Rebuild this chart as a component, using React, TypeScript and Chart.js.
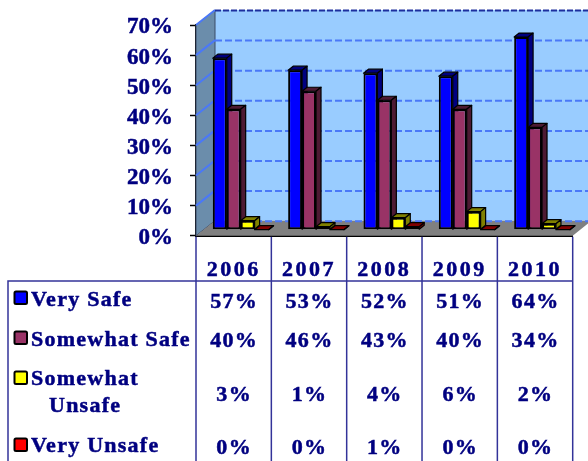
import React, { useEffect, useRef } from "react";
import { Chart, registerables } from "chart.js";

Chart.register(...registerables);

const years = ["2006", "2007", "2008", "2009", "2010"];
const verySafe = [57, 53, 52, 51, 64];
const somewhatSafe = [40, 46, 43, 40, 34];
const somewhatUnsafe = [3, 1, 4, 6, 2];
const veryUnsafe = [0, 0, 1, 0, 0];
const seriesNames = ["Very Safe", "Somewhat Safe", "Somewhat Unsafe", "Very Unsafe"];
const seriesValues = [verySafe, somewhatSafe, somewhatUnsafe, veryUnsafe];
const fronts = ["#0000FF", "#993366", "#FFFF00", "#FF0000"];
const sides = ["#000080", "#4D1A33", "#808000", "#800000"];

const NAVY = "#000080";
const LINE = "#333399";
const WALL_DX = 19;
const WALL_DY = 15;
const BAR_DX = 7;
const BAR_DY = -6;
const DEPTH_X = 5;
const DEPTH_Y = 4;

function poly(ctx: CanvasRenderingContext2D, pts: number[][], fill: string, stroke?: string, lw = 1) {
  ctx.beginPath();
  pts.forEach((p, i) => (i ? ctx.lineTo(p[0], p[1]) : ctx.moveTo(p[0], p[1])));
  ctx.closePath();
  ctx.fillStyle = fill;
  ctx.fill();
  if (stroke) {
    ctx.strokeStyle = stroke;
    ctx.lineWidth = lw;
    ctx.stroke();
  }
}

const scenePlugin = {
  id: "scene",
  afterLayout(chart: any) {
    const sx = chart.scales.x;
    const sy = chart.scales.y;
    if (!sx.__spaced) {
      const orig = sx.drawLabels;
      sx.drawLabels = function (area: any) {
        chart.ctx.letterSpacing = "2.5px";
        orig.call(this, area);
        chart.ctx.letterSpacing = "0px";
      };
      sx.__spaced = true;
      const origY = sy.drawLabels;
      sy.drawLabels = function (area: any) {
        chart.ctx.save();
        chart.ctx.translate(1, 2.5);
        origY.call(this, area);
        chart.ctx.restore();
      };
    }
  },
  beforeDatasetsDraw(chart: any) {
    const { ctx, chartArea: a, scales } = chart;
    const y = scales.y;
    const top = y.getPixelForValue(70);
    const bottom = y.getPixelForValue(0);
    const left = a.left;
    const right = a.right;
    ctx.save();
    poly(ctx, [[left + WALL_DX, top - WALL_DY], [588, top - WALL_DY], [588, bottom - WALL_DY], [left + WALL_DX, bottom - WALL_DY]], "#99CCFF");
    poly(ctx, [[left, top], [left + WALL_DX, top - WALL_DY], [left + WALL_DX, bottom - WALL_DY], [left, bottom]], "#6B8DAB", "#3A4A66");
    poly(ctx, [[left, bottom], [left + WALL_DX, bottom - WALL_DY], [right + WALL_DX, bottom - WALL_DY], [right, bottom]], "#808080");
    for (const t of y.ticks) {
      const py = y.getPixelForValue(t.value);
      ctx.lineWidth = 2;
      ctx.strokeStyle = "#4A78F8";
      if (t.value > 0) {
        ctx.beginPath();
        ctx.moveTo(left, py);
        ctx.lineTo(left + WALL_DX, py - WALL_DY);
        ctx.stroke();
      }
      ctx.setLineDash(t.value === 70 ? [6, 2] : [7, 3]);
      ctx.strokeStyle = t.value === 70 ? "#1C2F9E" : "#4A78F8";
      ctx.beginPath();
      ctx.moveTo(left + WALL_DX, py - WALL_DY + 0.5);
      ctx.lineTo(588, py - WALL_DY + 0.5);
      ctx.stroke();
      ctx.setLineDash([]);
    }
    ctx.lineJoin = "round";
    chart.data.datasets.forEach((_: any, d: number) => {
      chart.getDatasetMeta(d).data.forEach((b: any) => {
        const x0 = b.x - b.width / 2 + BAR_DX;
        const x1 = b.x + b.width / 2 + BAR_DX;
        const yt = b.y + BAR_DY;
        const yb = b.base + BAR_DY;
        poly(ctx, [[x0, yt], [x0 + DEPTH_X, yt - DEPTH_Y], [x1 + DEPTH_X, yt - DEPTH_Y], [x1, yt]], sides[d], "#000", 1.2);
        poly(ctx, [[x1, yt], [x1 + DEPTH_X, yt - DEPTH_Y], [x1 + DEPTH_X, yb - DEPTH_Y], [x1, yb]], sides[d], "#000", 1.2);
      });
    });
    ctx.restore();
    ctx.save();
    ctx.translate(BAR_DX, BAR_DY);
  },
  afterDatasetsDraw(chart: any) {
    chart.ctx.restore();
  },
  afterDraw(chart: any) {
    const { ctx, scales } = chart;
    const x = scales.x;
    const bottom = scales.y.getPixelForValue(0);
    const TABLE_TOP = 281;
    const BOT = 461;
    const half = (x.getPixelForValue(1) - x.getPixelForValue(0)) / 2;
    ctx.save();
    ctx.strokeStyle = LINE;
    ctx.lineWidth = 1.5;
    ctx.beginPath();
    ctx.moveTo(8, BOT);
    ctx.lineTo(8, TABLE_TOP);
    ctx.lineTo(x.getPixelForValue(4) + half, TABLE_TOP);
    for (let i = 0; i < years.length; i++) {
      const px = x.getPixelForValue(i) - half;
      ctx.moveTo(px, bottom + 1);
      ctx.lineTo(px, BOT);
    }
    const end = x.getPixelForValue(4) + half;
    ctx.moveTo(end, bottom + 1);
    ctx.lineTo(end, BOT);
    ctx.stroke();

    ctx.fillStyle = NAVY;
    ctx.strokeStyle = NAVY;
    ctx.lineWidth = 0.5;
    ctx.font = "bold 22px 'Liberation Serif'";
    ctx.textBaseline = "middle";
    const labelRows = [[300], [340], [379, 406], [446]];
    const valueRows = [302, 341, 395, 448];
    const keyTops = [291, 331, 371, 438];
    const keyX = 14;
    const put = (t: string, px: number, py: number) => {
      ctx.fillText(t, px, py);
      ctx.strokeText(t, px, py);
    };
    seriesNames.forEach((name, s) => {
      ctx.save();
      ctx.beginPath();
      ctx.roundRect(keyX + 0.5, keyTops[s] + 0.5, 12.5, 12.5, 1.5);
      ctx.fillStyle = fronts[s];
      ctx.fill();
      ctx.lineWidth = 2;
      ctx.strokeStyle = "#000";
      ctx.stroke();
      ctx.restore();

      ctx.textAlign = "left";
      ctx.letterSpacing = "1.25px";
      if (name === "Somewhat Unsafe") {
        const parts = name.split(" ");
        put(parts[0], 31, labelRows[s][0]);
        put(parts[1], 49, labelRows[s][1]);
      } else {
        put(name, 31, labelRows[s][0]);
      }
      ctx.textAlign = "center";
      ctx.letterSpacing = "1.3px";
      seriesValues[s].forEach((v, i) => {
        put(`${v}%`, x.getPixelForValue(i) + 0.5, valueRows[s]);
      });
    });
    ctx.restore();
  },
};

export default function App() {
  const ref = useRef<HTMLCanvasElement | null>(null);
  useEffect(() => {
    const chart = new Chart(ref.current!, {
      type: "bar",
      data: {
        labels: years,
        datasets: seriesNames.map((label, i) => ({
          label,
          data: seriesValues[i],
          backgroundColor: fronts[i],
          borderColor: "#000",
          borderWidth: 2,
          borderSkipped: false,
          categoryPercentage: 0.74,
          barPercentage: 1,
        })),
      },
      options: {
        responsive: false,
        animation: false,
        layout: { padding: { top: 25, right: 15.3, left: 0, bottom: 0 } },
        plugins: { legend: { display: false }, tooltip: { enabled: false }, title: { display: false } },
        scales: {
          x: {
            grid: { display: false },
            border: { color: "#000", width: 2 },
            ticks: {
              color: NAVY,
              padding: 13,
              maxRotation: 0,
              autoSkip: false,
              textStrokeColor: NAVY,
              textStrokeWidth: 0.5,
              font: { family: "'Liberation Serif'", size: 22, weight: "bold" },
            },
            afterFit: (s: any) => {
              s.height = 225.3;
              s.paddingLeft = 0;
              s.paddingRight = 0;
            },
          },
          y: {
            min: 0,
            max: 70,
            grid: { drawOnChartArea: false, color: "#000", tickLength: 6, tickWidth: 1.5 },
            border: { color: "#000", width: 2 },
            ticks: {
              stepSize: 10,
              autoSkip: false,
              color: NAVY,
              padding: 18,
              textStrokeColor: NAVY,
              textStrokeWidth: 0.5,
              font: { family: "'Liberation Serif'", size: 23, weight: "bold" },
              callback: (v: any) => `${v}%`,
            },
            afterFit: (s: any) => {
              s.width = 196;
              s.paddingTop = 0;
              s.paddingBottom = 0;
            },
          },
        },
      },
      plugins: [scenePlugin],
    } as any);
    return () => chart.destroy();
  }, []);
  return (
    <canvas
      ref={ref}
      width={588}
      height={461}
      style={{ position: "fixed", left: 0, top: 0, width: 588, height: 461, filter: "blur(0.4px)" }}
    />
  );
}
